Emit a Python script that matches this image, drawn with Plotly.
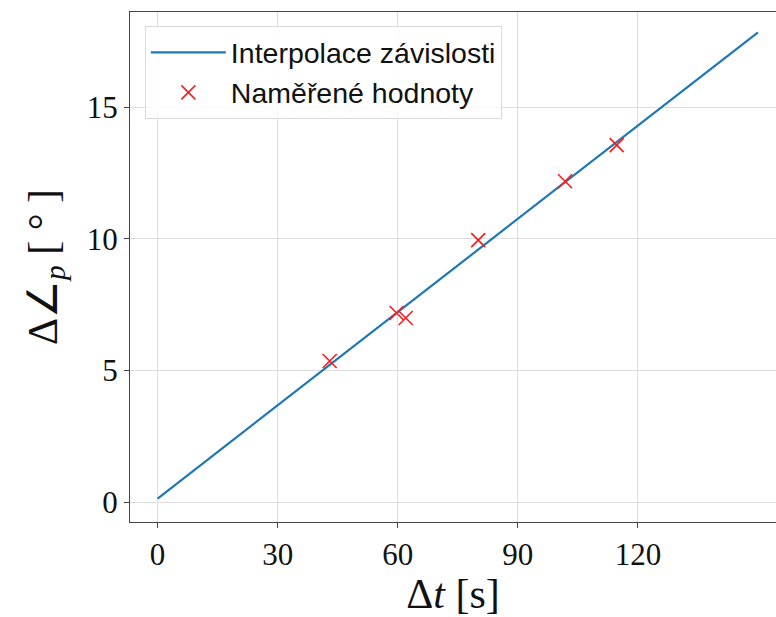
import plotly.graph_objects as go

# Data
fit_x = [0, 150]
fit_y = [0.13, 17.85]
meas_x = [43.0, 59.7, 62.0, 80.1, 101.8, 114.7]
meas_y = [5.36, 7.18, 6.99, 9.95, 12.19, 13.56]
x_ticks = [0, 30, 60, 90, 120]
y_ticks = [0, 5, 10, 15]

fig = go.Figure()
fig.add_trace(go.Scatter(
    x=fit_x, y=fit_y, mode="lines", name="Interpolace závislosti",
    line=dict(color="#1f77b4", width=2.2),
))
fig.add_trace(go.Scatter(
    x=meas_x, y=meas_y, mode="markers", name="Naměřené hodnoty",
    marker=dict(symbol="x-thin", size=14, line=dict(color="#ff1a1a", width=1.6), color="#ff1a1a"),
))

tick_font = dict(family="Liberation Serif", size=31, color="#111")
title_font = dict(family="Liberation Serif", size=42, color="#111")

fig.update_layout(
    width=776, height=617,
    margin=dict(l=130, r=0, t=12, b=95),
    paper_bgcolor="white", plot_bgcolor="white",
    showlegend=True,
    legend=dict(
        x=0.023, y=0.972, xanchor="left", yanchor="top",
        font=dict(family="Liberation Sans", size=28.5, color="#111"),
        bordercolor="#d9d9d9", borderwidth=1, bgcolor="rgba(255,255,255,0.85)",
        itemwidth=75,
    ),
)
fig.update_xaxes(
    range=[-6.9, 154.5], tickvals=x_ticks, ticktext=[str(v) for v in x_ticks],
    showgrid=True, gridcolor="#dddddd", gridwidth=1, zeroline=False,
    showline=True, linecolor="#444", linewidth=1, mirror=True,
    ticks="outside", ticklen=5, tickcolor="#444",
    tickfont=tick_font,
    title=dict(text="Δ<i>t</i> [s]", font=title_font, standoff=6),
)
fig.update_yaxes(
    range=[-0.76, 18.62], tickvals=y_ticks, ticktext=[str(v) for v in y_ticks],
    showgrid=True, gridcolor="#dddddd", gridwidth=1, zeroline=False,
    showline=True, linecolor="#444", linewidth=1, mirror=False,
    ticks="outside", ticklen=5, tickcolor="#444",
    tickfont=tick_font,
    title=dict(text="Δ∠<sub><i>p</i></sub> [ ° ]", font=title_font, standoff=16),
)

fig.write_html("out.html")
